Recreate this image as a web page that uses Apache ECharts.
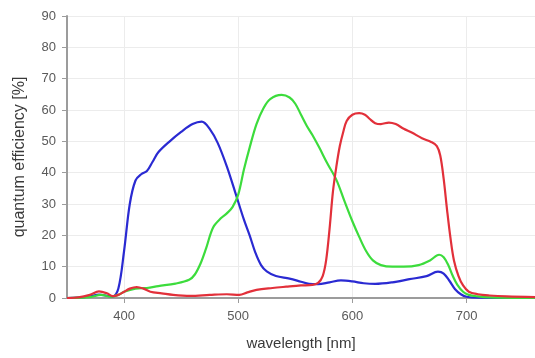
<!DOCTYPE html>
<html>
<head>
<meta charset="utf-8">
<script src="https://cdn.jsdelivr.net/npm/echarts@6/dist/echarts.min.js"></script>
<style>
html,body{margin:0;padding:0;background:#fff;}
#chart{width:535px;height:358px;}
</style>
</head>
<body>
<div id="chart"></div>
<script>
// Tick labels
const xTickValues = [400, 500, 600, 700];
const yTickValues = [0, 10, 20, 30, 40, 50, 60, 70, 80, 90];

// Blue channel
const blueWl = [350,360,370,378,385,390,395,400,405,410,415,420,425,430,440,450,460,468,475,482,490,498,505,510,515,520,525,533,545,555,562,570,580,590,600,610,620,635,650,665,675,680,685,690,695,700,710,760];
const blueQe = [0,0.1,0.5,1.1,0.7,0.5,3,15,30,37.5,39.5,40.5,43.5,46.5,50,53,55.5,56.3,54,49.5,42,33,25,20,14.5,10.5,8.5,7,6.2,5.2,4.5,4.4,5,5.6,5.3,4.7,4.5,5,6,7,8.4,7.8,5.5,2.8,1.2,0.4,0.1,0];

// Green channel
const greenWl = [350,370,380,388,395,400,410,420,430,445,457,462,467,472,478,485,490,495,500,505,510,516,522,528,538,545,550,555,560,565,571,578,586,593,600,606,612,618,625,635,645,658,668,676,680,684,688,692,697,702,710,720,760];
const greenQe = [0,0.3,1,0.4,1,2,3,3.2,3.8,4.6,5.8,7.5,11,16,22.5,25.5,27,29,33,41,48,55.5,60.5,63.5,64.8,64,62,58.5,55,52,48,43,37.7,31,24.5,19.5,15,12,10.5,10,10,10.5,12,13.8,13,10.5,7,4.2,2,1,0.5,0.2,0];

// Red channel
const redWl = [350,360,370,378,385,390,395,400,405,411,417,423,433,443,458,475,490,501,508,516,530,542,555,565,570,574,577,580,583,586,589,592,595,600,606,611,615,620,625,632,638,645,652,661,669,674,677,680,683,686,689,693,697,702,710,720,735,760];
const redQe = [0,0.2,1,2.1,1.5,0.6,1,2,3,3.5,3,2,1.5,1,0.7,1,1.2,1,1.8,2.6,3.2,3.6,4,4.2,4.8,7,12,22,34,42,48.5,53,56.5,58.5,59,58.5,57.2,55.8,55.5,56,55.5,54,52.8,51,49.8,48.5,45.5,38,28,19,12,7,4,2,1.2,0.8,0.5,0.3];

function zip(a, b) { return a.map((v, i) => [v, b[i]]); }

const chart = echarts.init(document.getElementById('chart'), null, {renderer: 'canvas'});
const axisGray = '#9c9c9c';
const labelGray = '#5a5a5a';
const fontFam = 'Liberation Sans, Arial, sans-serif';

chart.setOption({
  animation: false,
  grid: {left: 67, right: 0, top: 16, bottom: 60, containLabel: false},
  xAxis: {
    type: 'value', min: 350, max: 760,
    name: 'wavelength [nm]', nameLocation: 'middle', nameGap: 38,
    nameTextStyle: {color: '#3a3a3a', fontSize: 15, fontFamily: fontFam},
    axisLine: {show: true, onZero: false, lineStyle: {color: axisGray, width: 2}},
    axisTick: {show: true, inside: false, length: 5, customValues: xTickValues, lineStyle: {color: axisGray, width: 1}},
    axisLabel: {customValues: xTickValues, margin: 12, color: labelGray, fontSize: 13, fontFamily: fontFam},
    splitLine: {show: true, lineStyle: {color: '#ececec', width: 1}}
  },
  yAxis: {
    type: 'value', min: 0, max: 90, interval: 10,
    name: 'quantum efficiency [%]', nameLocation: 'middle', nameGap: 39,
    nameTextStyle: {color: '#3a3a3a', fontSize: 16, fontFamily: fontFam},
    axisLine: {show: true, lineStyle: {color: axisGray, width: 2}},
    axisTick: {show: true, inside: false, length: 5, lineStyle: {color: axisGray, width: 1}},
    axisLabel: {margin: 11, color: labelGray, fontSize: 13, fontFamily: fontFam},
    splitLine: {show: true, lineStyle: {color: '#ececec', width: 1}}
  },
  series: [
    {type: 'line', name: 'blue', data: zip(blueWl, blueQe), smooth: 0.35, showSymbol: false, symbol: 'none',
     lineStyle: {color: '#2a2ad2', width: 2.2}, itemStyle: {color: '#2a2ad2'}},
    {type: 'line', name: 'green', data: zip(greenWl, greenQe), smooth: 0.35, showSymbol: false, symbol: 'none',
     lineStyle: {color: '#3cdc3c', width: 2.2}, itemStyle: {color: '#3cdc3c'}},
    {type: 'line', name: 'red', data: zip(redWl, redQe), smooth: 0.35, showSymbol: false, symbol: 'none',
     lineStyle: {color: '#e2303a', width: 2.2}, itemStyle: {color: '#e2303a'}}
  ]
});
</script>
</body>
</html>
